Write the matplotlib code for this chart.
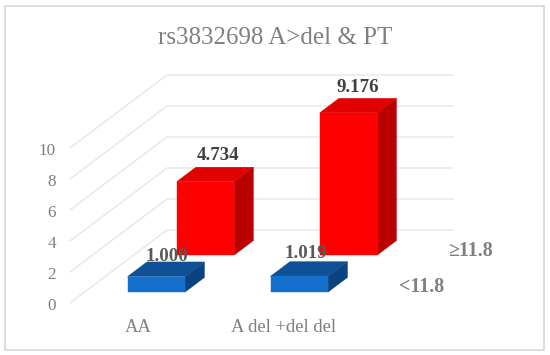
"""3D style column chart, drawn with an oblique projection on a pixel sized axes."""

import matplotlib

matplotlib.use("Agg")

import matplotlib.pyplot as plt
from matplotlib.patches import Polygon, Rectangle

categories = ["AA", "A del +del del"]
series_names = ["<11.8", "≥11.8"]
values_low = [1.000, 1.019]
values_high = [4.734, 9.176]
value_labels_low = ["1.000", "1.019"]
value_labels_high = ["4.734", "9.176"]
y_ticks = [0, 2, 4, 6, 8, 10]
title = "rs3832698 A>del & PT"

# projection, in pixels
ORIGIN_X = 70.0
ORIGIN_Y = 303.0
UNIT_Y = 15.5
DEPTH_X = 97.0
DEPTH_Y = 73.0
CAT_W = 143.0
BAR_OFFSET = 43.0
BAR_W = 57.5

GREY_TEXT = "#7f7f7f"
GREY_BOLD = "#595959"
GRID = "#e6e6e6"

plt.rcParams["font.family"] = ["Liberation Serif", "DejaVu Serif"]


def project(x, value, depth):
    return (ORIGIN_X + x + DEPTH_X * depth, ORIGIN_Y - UNIT_Y * value - DEPTH_Y * depth)


def draw_bar(ax, cat_idx, value, d0, d1, front, top, side):
    x0 = cat_idx * CAT_W + BAR_OFFSET
    x1 = x0 + BAR_W
    ax.add_patch(Polygon([project(x1, 0, d0), project(x1, value, d0), project(x1, value, d1), project(x1, 0, d1)],
                         closed=True, facecolor=side, edgecolor=side, linewidth=0.3, zorder=3))
    ax.add_patch(Polygon([project(x0, value, d0), project(x1, value, d0), project(x1, value, d1), project(x0, value, d1)],
                         closed=True, facecolor=top, edgecolor=top, linewidth=0.3, zorder=3))
    ax.add_patch(Polygon([project(x0, 0, d0), project(x1, 0, d0), project(x1, value, d0), project(x0, value, d0)],
                         closed=True, facecolor=front, edgecolor=front, linewidth=0.3, zorder=3))


fig = plt.figure(figsize=(5.5, 3.55), dpi=100)
ax = fig.add_axes([0, 0, 1, 1])
ax.set_xlim(0, 550)
ax.set_ylim(355, 0)
ax.axis("off")

ax.add_patch(Rectangle((4.7, 5.7), 539.3, 344.3, facecolor="white", edgecolor="#d9d9d9", linewidth=1.3))

for tick in y_ticks:
    pts = [project(0, tick, 0), project(0, tick, 1), project(2 * CAT_W, tick, 1)]
    ax.plot([p[0] for p in pts], [p[1] for p in pts], color=GRID, linewidth=1.0, zorder=1)
    ax.text(56, pts[0][1] + 3, str(tick), ha="right", va="center", fontsize=12.3, color=GREY_TEXT)

for i, value in enumerate(values_high):
    draw_bar(ax, i, value, 0.657, 0.855, "#ff0000", "#e00000", "#bb0000")
for i, value in enumerate(values_low):
    draw_bar(ax, i, value, 0.15, 0.35, "#1470cc", "#0f4f96", "#0a437f")

ax.text(275, 37.5, title, ha="center", va="center", fontsize=18, color=GREY_TEXT)

ax.text(218, 155, value_labels_high[0], ha="center", va="center", fontsize=13.6, fontweight="bold", color="#404040", zorder=5)
ax.text(357.7, 88, value_labels_high[1], ha="center", va="center", fontsize=13.6, fontweight="bold", color="#404040", zorder=5)
ax.text(166.7, 256.5, value_labels_low[0], ha="center", va="center", fontsize=13.6, fontweight="bold", color=GREY_BOLD, zorder=5)
ax.text(306, 253.5, value_labels_low[1], ha="center", va="center", fontsize=13.6, fontweight="bold", color=GREY_BOLD, zorder=5)

ax.text(138, 327.5, categories[0], ha="center", va="center", fontsize=13.4, color=GREY_TEXT)
ax.text(284, 327.5, categories[1], ha="center", va="center", fontsize=13.4, color=GREY_TEXT)

ax.text(421.7, 287, series_names[0], ha="center", va="center", fontsize=14.3, fontweight="bold", color=GREY_TEXT)
ax.text(470, 251, series_names[1], ha="center", va="center", fontsize=14.3, fontweight="bold", color=GREY_TEXT)

fig.savefig("out.png", dpi=100)
plt.close(fig)
